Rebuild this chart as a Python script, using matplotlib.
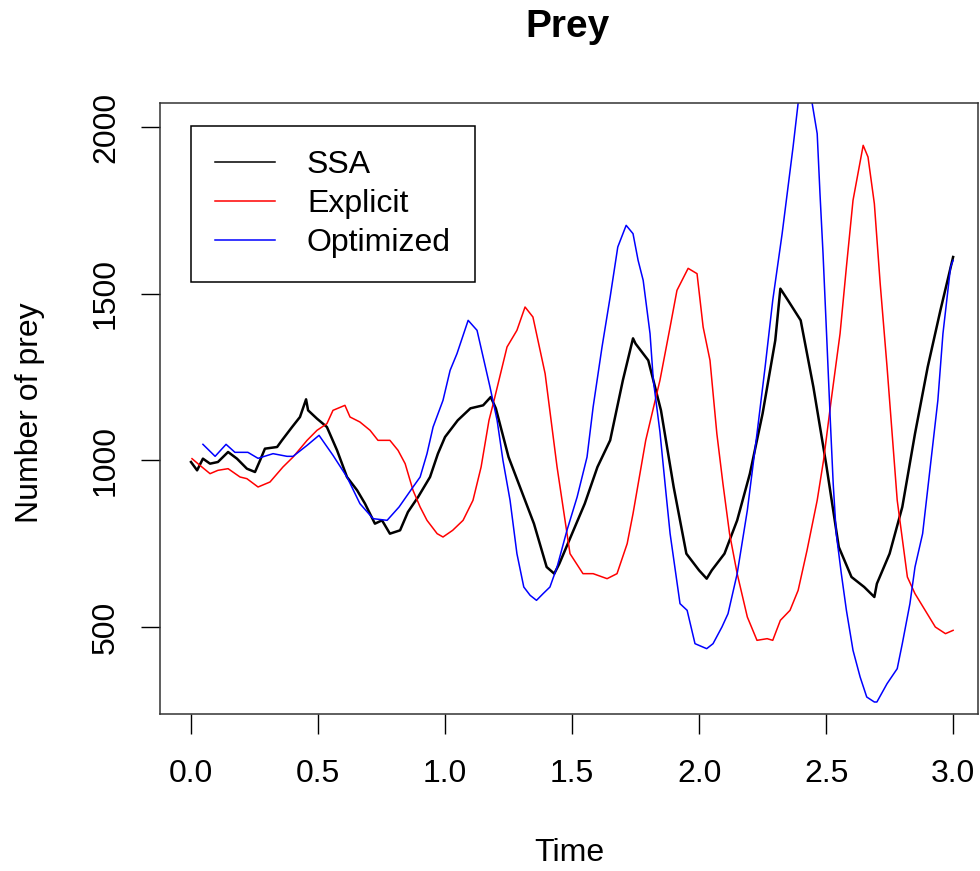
import matplotlib.pyplot as plt
from matplotlib.lines import Line2D

plt.rcParams['font.family'] = ['Liberation Sans', 'DejaVu Sans']

# SSA (stochastic) run
ssa_t = [0.0, 0.024, 0.047, 0.075, 0.106, 0.146, 0.181, 0.22, 0.252, 0.272, 0.291, 0.339,
         0.358, 0.398, 0.429, 0.453, 0.461, 0.496, 0.535, 0.575, 0.614, 0.654, 0.685, 0.724,
         0.752, 0.783, 0.823, 0.854, 0.894, 0.941, 0.972, 1.0, 1.05, 1.1, 1.15, 1.18, 1.2,
         1.25, 1.3, 1.35, 1.4, 1.43, 1.45, 1.5, 1.55, 1.6, 1.65, 1.7, 1.74, 1.75, 1.8, 1.85,
         1.9, 1.95, 2.0, 2.03, 2.05, 2.1, 2.15, 2.2, 2.25, 2.3, 2.32, 2.35, 2.4, 2.45, 2.5,
         2.55, 2.6, 2.65, 2.69, 2.7, 2.75, 2.8, 2.85, 2.9, 2.95, 3.0]
ssa_v = [995, 970, 1005, 990, 995, 1025, 1005, 975, 965, 1000, 1035, 1040,
         1060, 1100, 1130, 1183, 1150, 1125, 1100, 1030, 950, 910, 870, 810,
         820, 780, 790, 845, 890, 950, 1020, 1070, 1120, 1156, 1165, 1190, 1156,
         1010, 910, 810, 680, 660, 690, 780, 870, 980, 1060, 1240, 1366, 1350, 1300, 1150,
         920, 720, 670, 645, 670, 720, 820, 960, 1140, 1360, 1515, 1480, 1420, 1220, 990,
         740, 650, 620, 590, 630, 720, 860, 1080, 1280, 1450, 1610]

# explicit tau-leaping run
exp_t = [0.004, 0.035, 0.075, 0.106, 0.146, 0.193, 0.22, 0.264, 0.311, 0.362, 0.402, 0.457,
         0.496, 0.535, 0.559, 0.606, 0.626, 0.665, 0.705, 0.736, 0.783, 0.815, 0.843, 0.874,
         0.902, 0.929, 0.969, 0.992, 1.03, 1.071, 1.11, 1.142, 1.173, 1.193, 1.244, 1.283,
         1.315, 1.346, 1.394, 1.441, 1.492, 1.543, 1.583, 1.638, 1.677, 1.717, 1.74, 1.79,
         1.846, 1.886, 1.913, 1.957, 1.992, 2.016, 2.043, 2.07, 2.094, 2.12, 2.15, 2.19,
         2.228, 2.268, 2.29, 2.32, 2.358, 2.39, 2.425, 2.465, 2.49, 2.52, 2.555, 2.58, 2.606,
         2.646, 2.665, 2.69, 2.713, 2.74, 2.76, 2.78, 2.82, 2.85, 2.89, 2.93, 2.97, 3.0]
exp_v = [1005, 985, 960, 970, 975, 950, 945, 920, 935, 980, 1010, 1060,
         1090, 1110, 1150, 1165, 1130, 1115, 1090, 1060, 1060, 1030, 990, 910,
         860, 820, 780, 770, 790, 820, 880, 980, 1120, 1180, 1340, 1390,
         1460, 1430, 1260, 980, 720, 660, 660, 645, 660, 750, 840, 1060,
         1240, 1400, 1510, 1576, 1560, 1400, 1300, 1080, 930, 780, 660, 530,
         460, 465, 460, 520, 550, 610, 730, 880, 1000, 1180, 1380, 1580, 1780,
         1945, 1910, 1770, 1530, 1280, 1080, 880, 650, 600, 550, 500, 480, 490]

# optimized run
opt_t = [0.047, 0.095, 0.138, 0.173, 0.224, 0.264, 0.323, 0.378, 0.402, 0.457, 0.504, 0.559,
         0.614, 0.665, 0.717, 0.772, 0.819, 0.874, 0.902, 0.929, 0.953, 0.992, 1.02, 1.047,
         1.091, 1.126, 1.15, 1.177, 1.205, 1.228, 1.256, 1.283, 1.31, 1.335, 1.36, 1.386,
         1.413, 1.441, 1.48, 1.52, 1.559, 1.583, 1.618, 1.65, 1.68, 1.713, 1.74, 1.76, 1.78,
         1.807, 1.82, 1.846, 1.87, 1.886, 1.925, 1.953, 1.984, 2.03, 2.055, 2.09, 2.114,
         2.15, 2.19, 2.228, 2.26, 2.29, 2.327, 2.37, 2.39, 2.417, 2.445, 2.465, 2.476,
         2.488, 2.503, 2.516, 2.528, 2.54, 2.56, 2.58, 2.606, 2.634, 2.66, 2.69, 2.70,
         2.74, 2.78, 2.80, 2.83, 2.85, 2.88, 2.91, 2.94, 2.96, 2.99, 3.0]
opt_v = [1048, 1012, 1048, 1024, 1024, 1006, 1020, 1012, 1012, 1045, 1075, 1015,
         950, 870, 825, 820, 860, 920, 950, 1020, 1100, 1180, 1270, 1320,
         1420, 1390, 1310, 1220, 1120, 1000, 880, 720, 620, 595, 580, 600,
         620, 680, 790, 890, 1010, 1160, 1340, 1490, 1640, 1705, 1680, 1600, 1540,
         1380, 1240, 1085, 900, 780, 570, 550, 450, 435, 450, 500, 540,
         660, 850, 1080, 1280, 1480, 1680, 1940, 2072, 2170, 2072, 1980, 1800,
         1620, 1360, 1130, 930, 780, 660, 550, 430, 350, 290, 275, 275,
         330, 375, 450, 570, 680, 780, 980, 1180, 1380, 1580, 1600]

labels = ['SSA', 'Explicit', 'Optimized']
colors = ['black', 'red', 'blue']

fig = plt.figure(figsize=(9.8, 8.71), dpi=100)
ax = fig.add_axes([160 / 980, 1 - 714 / 871, 818 / 980, 611 / 871])

ax.plot(ssa_t, ssa_v, color=colors[0], lw=1.8)
ax.plot(exp_t, exp_v, color=colors[1], lw=1.1)
ax.plot(opt_t, opt_v, color=colors[2], lw=1.1)

ax.set_xlim(-0.122, 3.098)
ax.set_ylim(239, 2072)
ax.set_xticks([0, 0.5, 1.0, 1.5, 2.0, 2.5, 3.0])
ax.set_xticklabels(['0.0', '0.5', '1.0', '1.5', '2.0', '2.5', '3.0'])
ax.set_yticks([500, 1000, 1500, 2000])
ax.set_yticklabels(['500', '1000', '1500', '2000'], rotation=90, va='center')
ax.tick_params(axis='x', length=14.4, width=1, pad=18, labelsize=23)
ax.tick_params(axis='y', length=14, width=1, pad=14, labelsize=23)
for s in ax.spines.values():
    s.set_linewidth(1.1)
    s.set_color('#333333')

fig.text(567.5 / 980, 1 - 37 / 871, 'Prey', fontsize=28, fontweight='bold',
         ha='center', va='baseline')
fig.text(569 / 980, 1 - 861 / 871, 'Time', fontsize=23, ha='center', va='baseline')
fig.text(38 / 980, 1 - 413 / 871, 'Number of prey', fontsize=23, rotation=90,
         rotation_mode='anchor', ha='center', va='baseline')

handles = [Line2D([], [], color=c, lw=1.1) for c in colors]
leg = ax.legend(handles, labels, loc='upper left',
                bbox_to_anchor=((191 - 160) / 818, (714 - 126) / 611),
                borderaxespad=0, fontsize=23, handlelength=1.88, handletextpad=1.0,
                labelspacing=0.28, borderpad=0.75, fancybox=False, framealpha=1)
leg.get_frame().set_edgecolor('black')
leg.get_frame().set_linewidth(1.1)

fig.savefig('out.png', dpi=100)
